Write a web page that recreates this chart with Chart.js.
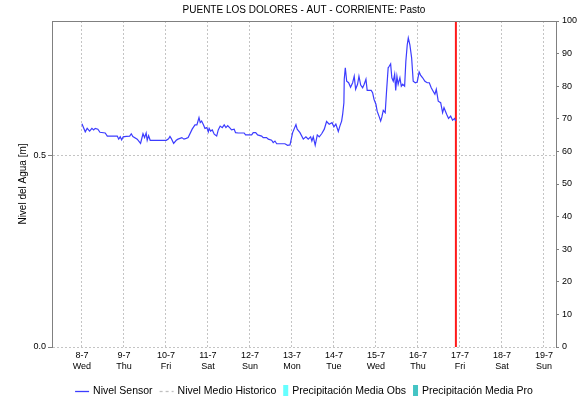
<!DOCTYPE html>
<html>
<head>
<meta charset="utf-8">
<script src="https://cdn.jsdelivr.net/npm/chart.js@4.4.1/dist/chart.umd.min.js"></script>
<style>
  html, body { margin: 0; padding: 0; background: #fff; }
</style>
</head>
<body>
<canvas id="level-chart" width="582" height="404"></canvas>
<script>
// Chart title
const TITLE = "PUENTE LOS DOLORES - AUT - CORRIENTE: Pasto";

// Day ticks on the time axis (one per day, starting 8-7 00:00)
const DAY_LABELS = ["8-7", "9-7", "10-7", "11-7", "12-7", "13-7", "14-7", "15-7", "16-7", "17-7", "18-7", "19-7"];
const WEEKDAYS = ["Wed", "Thu", "Fri", "Sat", "Sun", "Mon", "Tue", "Wed", "Thu", "Fri", "Sat", "Sun"];

// Axis ticks
const LEVEL_TICKS = [0, 0.5];
const LEVEL_MAX = 0.85;
const PCT_MAX = 100;
const PCT_STEP = 10;

// Time window in hours from 8-7 00:00
const HOUR_MIN = -17.1;
const HOUR_MAX = 270.9;

// Sensor water level: hours since 8-7 00:00 and level in meters
const SENSOR_HOURS = [
  0, 1.9, 3.0, 4.4, 5.7, 6.7, 7.6, 9.1, 10.3, 13.3, 14.5, 20.2, 21.0, 21.9, 22.7, 23.6,
  25.3, 27.3, 28.2, 29.1, 31.6, 33.5, 34.9, 35.8, 36.7, 37.3, 38.1, 39.0, 48.2, 49.5, 50.3, 51.0,
  52.4, 53.9, 54.9, 57.1, 58.3, 59.6, 60.7, 63.0, 64.6, 65.7, 66.9, 67.6, 68.4, 69.5, 70.3, 71.4,
  72.2, 72.7, 73.5, 74.5, 75.6, 77.0, 77.9, 79.0, 80.2, 81.3, 82.3, 83.3, 84.4, 85.5, 87.0, 87.8,
  89.3, 92.7, 93.5, 97.0, 97.9, 99.3, 100.4, 102.7, 103.6, 105.5, 106.5, 108.4, 109.3, 110.3, 111.3, 116.0,
  117.5, 118.9, 119.8, 120.4, 122.3, 123.0, 124.6, 126.5, 128.0, 129.3, 130.7, 131.4, 132.2, 133.3, 134.5, 135.6,
  137.0, 138.5, 139.8, 141.3, 142.9, 144.0, 145.1, 146.5, 147.4, 148.4, 149.0, 149.7, 149.9, 150.5, 151.3, 152.4,
  153.5, 154.7, 155.6, 156.4, 157.5, 158.3, 159.3, 160.4, 161.3, 162.3, 163.0, 165.3, 166.1, 166.9, 168.0, 168.7,
  169.9, 170.7, 171.4, 172.2, 173.3, 174.1, 175.0, 175.6, 176.4, 177.1, 177.9, 178.7, 179.3, 180.0, 180.7, 181.7,
  182.5, 183.3, 184.4, 185.1, 185.9, 186.5, 187.4, 188.4, 189.3, 190.5, 191.6, 192.7, 193.5, 194.7, 196.0, 197.3,
  198.5, 199.6, 200.7, 201.7, 202.5, 203.6, 205.0, 206.1, 206.9, 208.4, 209.5, 210.7, 211.8, 212.9, 213.6
];
const SENSOR_LEVEL = [
  0.582, 0.561, 0.570, 0.563, 0.570, 0.566, 0.570, 0.568, 0.560, 0.558, 0.550, 0.550, 0.542, 0.548, 0.540, 0.548,
  0.549, 0.550, 0.556, 0.549, 0.542, 0.531, 0.556, 0.546, 0.558, 0.539, 0.551, 0.539, 0.539, 0.543, 0.549, 0.544,
  0.531, 0.539, 0.542, 0.546, 0.542, 0.544, 0.546, 0.568, 0.579, 0.579, 0.598, 0.585, 0.589, 0.579, 0.570, 0.572,
  0.561, 0.570, 0.563, 0.566, 0.555, 0.550, 0.566, 0.576, 0.572, 0.579, 0.572, 0.577, 0.572, 0.566, 0.568, 0.559,
  0.558, 0.558, 0.553, 0.553, 0.559, 0.559, 0.553, 0.550, 0.546, 0.546, 0.542, 0.539, 0.533, 0.537, 0.530, 0.530,
  0.526, 0.527, 0.546, 0.559, 0.580, 0.568, 0.559, 0.542, 0.548, 0.542, 0.548, 0.537, 0.548, 0.526, 0.553, 0.548,
  0.556, 0.568, 0.588, 0.581, 0.585, 0.574, 0.581, 0.562, 0.576, 0.589, 0.607, 0.637, 0.698, 0.728, 0.693, 0.689,
  0.677, 0.689, 0.706, 0.672, 0.685, 0.706, 0.683, 0.676, 0.685, 0.698, 0.669, 0.669, 0.663, 0.646, 0.633, 0.615,
  0.600, 0.589, 0.600, 0.617, 0.611, 0.669, 0.728, 0.732, 0.738, 0.702, 0.693, 0.711, 0.669, 0.706, 0.685, 0.702,
  0.680, 0.685, 0.680, 0.745, 0.788, 0.806, 0.788, 0.754, 0.693, 0.689, 0.691, 0.717, 0.709, 0.702, 0.693, 0.689,
  0.689, 0.676, 0.667, 0.659, 0.672, 0.641, 0.637, 0.611, 0.624, 0.607, 0.596, 0.602, 0.591, 0.596, 0.589
];

// Current time marker (red vertical line), hours since 8-7 00:00
const NOW_HOUR = 213.7;

const FONT = "'Liberation Sans', Arial, sans-serif";
Chart.defaults.font.family = FONT;
Chart.defaults.color = "#000";

// Top edge of the plot frame
const framePlugin = {
  id: "frameTop",
  afterDraw(chart) {
    const { ctx, chartArea } = chart;
    ctx.save();
    ctx.strokeStyle = "#808080";
    ctx.lineWidth = 1;
    ctx.beginPath();
    ctx.moveTo(chartArea.left, chartArea.top + 0.5);
    ctx.lineTo(chartArea.right, chartArea.top + 0.5);
    ctx.stroke();
    ctx.restore();
  }
};

// Legend row below the axis, centred over the plot area
const legendPlugin = {
  id: "bottomLegend",
  afterDraw(chart) {
    const { ctx, chartArea } = chart;
    const items = chart.data.datasets.filter(ds => ds.label);
    ctx.save();
    ctx.font = "10.5px " + FONT;
    ctx.textBaseline = "middle";
    const symW = ds => (ds.type === "bar" ? 5 : 14);
    let total = 0;
    items.forEach((ds, i) => {
      total += symW(ds) + 4 + ctx.measureText(ds.label).width;
      if (i < items.length - 1) total += 7;
    });
    let x = (chartArea.left + chartArea.right) / 2 - total / 2;
    const y = 391;
    items.forEach(ds => {
      if (ds.type === "bar") {
        ctx.fillStyle = ds.backgroundColor;
        ctx.fillRect(x, y - 6, 5, 11);
      } else {
        ctx.strokeStyle = ds.borderColor;
        ctx.lineWidth = 1.3;
        ctx.setLineDash(ds.borderDash || []);
        ctx.beginPath();
        ctx.moveTo(x, y + 0.5);
        ctx.lineTo(x + 14, y + 0.5);
        ctx.stroke();
        ctx.setLineDash([]);
      }
      x += symW(ds) + 4;
      ctx.fillStyle = "#000";
      ctx.fillText(ds.label, x, y);
      x += ctx.measureText(ds.label).width + 7;
    });
    ctx.restore();
  }
};

const sensorPoints = SENSOR_HOURS.map((h, i) => ({ x: h, y: SENSOR_LEVEL[i] }));

const ctx = document.getElementById("level-chart").getContext("2d");
const chart = new Chart(ctx, {
  type: "line",
  data: {
    datasets: [
      {
        label: "Nivel Sensor",
        data: sensorPoints,
        borderColor: "#3c3cff",
        borderWidth: 1.2,
        pointRadius: 0,
        tension: 0,
        yAxisID: "y"
      },
      {
        label: "Nivel Medio Historico",
        data: [],
        borderColor: "#c0c0c0",
        borderDash: [3, 3],
        pointRadius: 0,
        yAxisID: "y"
      },
      {
        type: "bar",
        label: "Precipitación Media Obs",
        data: [],
        backgroundColor: "#66ffff",
        yAxisID: "yPct"
      },
      {
        type: "bar",
        label: "Precipitación Media Pro",
        data: [],
        backgroundColor: "#44c4c4",
        yAxisID: "yPct"
      },
      {
        label: "",
        data: [{ x: NOW_HOUR, y: 0 }, { x: NOW_HOUR, y: LEVEL_MAX }],
        borderColor: "#ff1a1a",
        borderWidth: 2,
        pointRadius: 0,
        yAxisID: "y"
      }
    ]
  },
  options: {
    responsive: false,
    animation: false,
    layout: { padding: 0 },
    plugins: {
      legend: { display: false },
      tooltip: { enabled: false },
      title: {
        display: true,
        text: TITLE,
        fullSize: false,
        font: { size: 10, weight: "normal" },
        color: "#000",
        padding: { top: 4, bottom: 5 }
      }
    },
    scales: {
      x: {
        type: "linear",
        min: HOUR_MIN,
        max: HOUR_MAX,
        offset: false,
        afterBuildTicks: scale => {
          scale.ticks = DAY_LABELS.map((_, i) => ({ value: i * 24 }));
        },
        afterFit: scale => { scale.height = 57; },
        ticks: {
          autoSkip: false,
          maxRotation: 0,
          padding: 3,
          font: { size: 9 },
          callback: (value, index) => [DAY_LABELS[index], WEEKDAYS[index]]
        },
        grid: { color: "#c4c4c4", drawTicks: false, offset: false },
        border: { display: false, dash: [2, 2] }
      },
      y: {
        position: "left",
        min: 0,
        max: LEVEL_MAX,
        afterBuildTicks: scale => {
          scale.ticks = LEVEL_TICKS.map(v => ({ value: v }));
        },
        afterFit: scale => { scale.width = 52; },
        ticks: {
          padding: 2,
          font: { size: 9 },
          callback: value => value.toFixed(1)
        },
        title: {
          display: true,
          text: "Nivel del Agua [m]",
          font: { size: 10 },
          color: "#000",
          padding: { top: 17, bottom: 0 }
        },
        grid: { color: "#c4c4c4", tickLength: 4, tickColor: "#808080" },
        border: { display: true, color: "#808080", dash: [2, 2] }
      },
      yPct: {
        position: "right",
        min: 0,
        max: PCT_MAX,
        afterFit: scale => { scale.width = 26; },
        ticks: {
          stepSize: PCT_STEP,
          padding: 3,
          font: { size: 9 }
        },
        grid: { drawOnChartArea: false, tickLength: 3, tickColor: "#808080" },
        border: { display: true, color: "#808080" }
      }
    }
  },
  plugins: [framePlugin, legendPlugin]
});
</script>
</body>
</html>
